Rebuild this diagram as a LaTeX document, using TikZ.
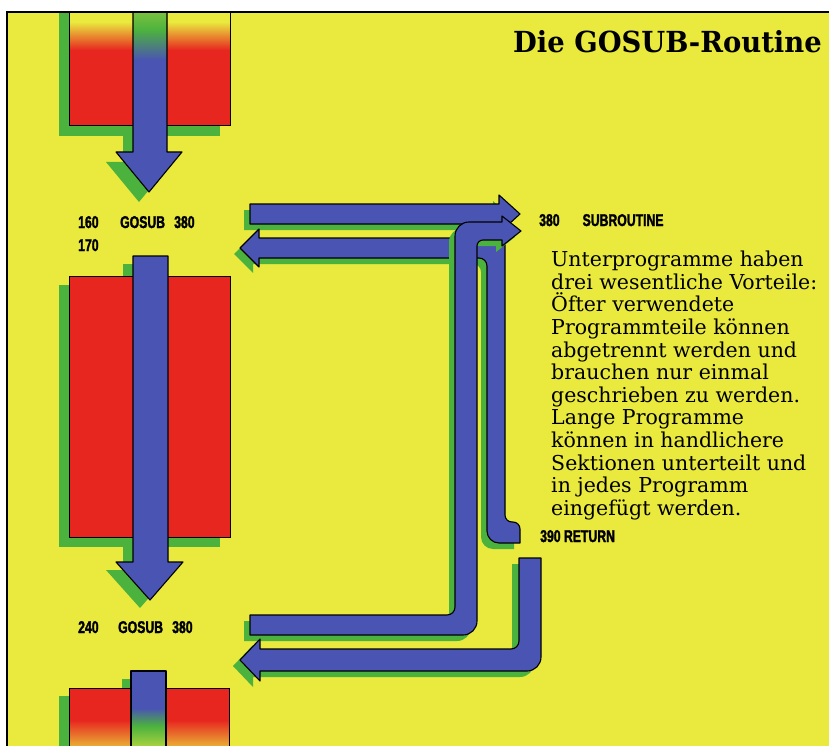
\documentclass[tikz,border=0pt]{standalone}
\usepackage{fontspec}
\setmainfont{DejaVu Serif}
\newfontfamily\labfont[FakeStretch=0.72,FakeBold=1.6]{Liberation Sans}
\newfontfamily\titlefont[FakeStretch=0.945]{DejaVu Serif}
\definecolor{yel}{RGB}{233,233,62}
\definecolor{rd}{RGB}{232,38,32}
\definecolor{blu}{RGB}{74,84,178}
\definecolor{grn}{RGB}{76,178,62}
% outlines of the right-hand arrows and pipes
\newcommand{\pathArrowA}{(250,204) -- (499,204) -- (499,195) -- (520,214) -- (499,233) -- (499,224) -- (250,224) -- cycle}
\newcommand{\pathReturnA}{(240,248) -- (259,229) -- (259,238) -- (505,238) [rounded corners=7pt] -- (505,522) -- (520,522) [sharp corners] -- (520,543) [rounded corners=12pt] -- (487,543) [rounded corners=8pt] -- (487,258) [sharp corners] -- (259,258) -- (259,267) -- cycle}
\newcommand{\pathCallB}{(250,615) [rounded corners=8pt] -- (455,615) [rounded corners=14pt] -- (455,222) [sharp corners] -- (502,222) -- (502,216) -- (521,231) -- (502,246) -- (502,240) [rounded corners=6pt] -- (477,240) [rounded corners=14pt] -- (477,635) [sharp corners] -- (250,635) -- cycle}
\newcommand{\pathReturnB}{(519,558) -- (541,558) [rounded corners=14pt] -- (541,671) [sharp corners] -- (260,671) -- (260,681) -- (240,660) -- (260,639) -- (260,649) [rounded corners=8pt] -- (519,649) [sharp corners] -- cycle}
% left column
\newcommand{\pathDownA}{(133,5) -- (167,5) -- (167,152) -- (182,152) -- (149,192) -- (116,152) -- (133,152) -- cycle}
\newcommand{\pathDownB}{(133,256) -- (168,256) -- (168,562) -- (183,562) -- (150,600) -- (116,562) -- (133,562) -- cycle}

\begin{document}
\begin{tikzpicture}[x=1pt,y=-1pt,
  pipe/.style={fill=blu,draw=black,line width=1.1pt,line join=round},
  drop/.style={fill=grn},
  block/.style={draw=black,line width=0.9pt},
  lbl/.style={font=\labfont\bfseries\fontsize{17}{17}\selectfont,inner sep=0pt,anchor=base west},
  body/.style={font=\fontsize{20.5}{22.6}\selectfont,inner sep=0pt,anchor=north west,align=left}]
\useasboundingbox (0,0) rectangle (829,746);
\fill[white] (0,0) rectangle (829,746);
\fill[yel] (7,12) rectangle (829,746);
\begin{scope}
\clip (7,12) rectangle (829,746);
% top block
\fill[drop] (59,5) rectangle (220,136);
\fill[drop,shift={(-10,10)}] \pathDownA;
\fill[rd] (69,50) rectangle (230,125);
\shade[top color=yel,bottom color=rd] (69,22) rectangle (230,50);
\fill[yel] (69,5) rectangle (230,22);
\draw[block] (69,5) rectangle (230,125);
\fill[blu] \pathDownA;
\shade[top color=grn,bottom color=blu] (133,30) rectangle (167,60);
\shade[top color=yel!40!grn,bottom color=grn] (133,5) rectangle (167,30);
\draw[pipe,fill=none] \pathDownA;
% middle block
\fill[drop] (59,285) rectangle (220,547);
\fill[drop,shift={(-10,8)}] \pathDownB;
\fill[rd,block] (69,276) rectangle (230,537);
\draw[pipe] \pathDownB;
% bottom block
\fill[drop] (59,696) rectangle (219,760);
\fill[drop] (122,679) rectangle (157,760);
\fill[rd] (69,688) rectangle (229,720);
\shade[top color=rd,bottom color=yel!80!rd] (69,720) rectangle (229,750);
\draw[block] (69,688) rectangle (229,760);
\fill[blu] (131,671) rectangle (166,708);
\shade[top color=blu,bottom color=grn] (131,708) rectangle (166,726);
\shade[top color=grn,bottom color=yel!70!grn] (131,726) rectangle (166,750);
\draw[pipe,fill=none] (131,760) -- (131,671) -- (166,671) -- (166,760);
% right-hand arrows
\fill[drop,shift={(-6,6)}] \pathArrowA;
\draw[pipe] \pathArrowA;
\fill[drop,shift={(-6,6)}] \pathReturnA;
\draw[pipe] \pathReturnA;
\fill[drop,shift={(-6,6)}] \pathCallB;
\draw[pipe] \pathCallB;
\fill[drop,shift={(-7,6)}] \pathReturnB;
\draw[pipe] \pathReturnB;
\end{scope}
\draw[line width=1.2pt] (829,12) -- (7,12) -- (7,746);
% texts
\node[font=\titlefont\bfseries\fontsize{29}{29}\selectfont,inner sep=0pt,anchor=base east] (title) at (822,53) {Die GOSUB-Routine};
\node[lbl] (n160) at (78,228) {160};
\node[lbl] (gosubA) at (120,228) {GOSUB};
\node[lbl] (n380a) at (174,228) {380};
\node[lbl] (n170) at (78,251) {170};
\node[lbl] (n240) at (78,633) {240};
\node[lbl] (gosubB) at (118,633) {GOSUB};
\node[lbl] (n380b) at (172,633) {380};
\node[lbl] (sub) at (539,226) {380\hspace{23pt}SUBROUTINE};
\node[lbl] (ret) at (540,542) {390 RETURN};
\node[body] (txt) at (551,251) {Unterprogramme haben\\drei wesentliche Vorteile:\\Öfter verwendete\\Programmteile können\\abgetrennt werden und\\brauchen nur einmal\\geschrieben zu werden.\\Lange Programme\\können in handlichere\\Sektionen unterteilt und\\in jedes Programm\\eingefügt werden.};
\end{tikzpicture}
\end{document}
